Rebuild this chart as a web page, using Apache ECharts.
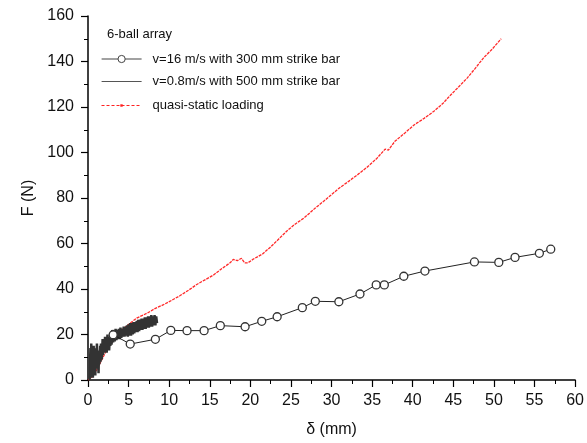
<!DOCTYPE html>
<html>
<head>
<meta charset="utf-8">
<script src="https://cdn.jsdelivr.net/npm/echarts@6/dist/echarts.min.js"></script>
<style>html,body{margin:0;padding:0;background:#fff}#c{width:587px;height:443px}</style>
</head>
<body>
<div id="c"></div>
<script>
// Dynamic, v=16 m/s with 300 mm strike bar (circles)
const circX = [3.1, 5.2, 8.3, 10.2, 12.2, 14.3, 16.3, 19.35, 21.4, 23.3, 26.4, 28.0, 30.9, 33.5, 35.5, 36.5, 38.9, 41.5, 47.6, 50.6, 52.6, 55.6, 57.0];
const circY = [19.9, 15.8, 17.9, 21.8, 21.7, 21.7, 23.9, 23.4, 25.8, 27.8, 31.8, 34.6, 34.4, 37.8, 41.8, 41.8, 45.6, 47.9, 51.9, 51.7, 53.9, 55.7, 57.5];

// v=0.8 m/s with 500 mm strike bar (noisy trace)
const slowX = [0.2,0.3,0.35,0.4,0.5,0.55,0.6,0.7,0.75,0.8,0.9,0.95,1.0,1.1,1.15,1.2,1.3,1.35,1.4,1.5,1.55,1.6,1.7,
  1.8,1.85,1.9,2.0,2.1,2.15,2.2,2.3,2.4,2.45,2.5,2.6,2.7,2.75,2.8,2.9,
  3.0,3.1,3.2,3.3,3.4,3.5,3.6,3.7,3.8,3.9,4.0,4.1,4.2,4.3,4.4,4.5,4.6,4.7,4.8,
  4.9,5.0,5.1,5.2,5.3,5.4,5.5,5.6,5.7,5.8,5.9,6.0,6.1,6.2,6.3,6.4,6.5,6.6,6.7,6.8,6.9,7.0,7.1,7.2,7.3,7.4,7.5,7.6,7.7,7.8,7.9,8.0,8.1,8.2,8.3,8.4,8.5];
const slowY = [0,14,1,16,3,12,1,15,4,11,2,14,6,16,5,13,3,12,7,15,8,16,9,
  18,11,17,12,19,13,18,12,20,14,18,13,19,15,20,15.5,
  22,16.5,21.5,17,22.5,17.5,22,18,22.5,18,23,18.5,22.5,19,23.5,19,23.5,19.5,24,
  19,24.5,19.5,25,19.5,25,20,25.5,20.5,25.5,21,26,21,26.5,21.5,26.5,22,27,22,27,22.5,27.5,22.5,27.5,23,28,23,28,23.5,28.5,23.5,28,24,28.5,24,28,25];

// quasi-static loading
const qsX = [0,0.4,1,1.5,2,2.5,3.2,4,5.2,6,7.3,8.3,9.3,10.3,11.3,12.4,13.4,14.4,15.4,16.5,17.5,17.9,18.4,18.9,19.3,19.7,20.3,21.5,22.5,23.5,24.5,25.5,26.6,28.0,29,30,31,32.1,33.3,34.5,35.6,36.6,37,37.8,39,40.2,41.4,42.6,43.7,44.7,45.7,46.7,47.7,48.7,49.8,50.9];
const qsY = [0,0.9,4,7.5,11,14.5,17.7,21.5,25,27.2,29.4,31.5,33.1,35,37,39.5,42,44,46,49,51.5,53,52.5,53.5,51.5,51.5,53,55.4,58.5,62,65.5,68.5,71.2,75.6,78.5,81.5,84.5,87.3,90.5,93.9,97.5,101.5,101,104.9,108.5,112.2,115,118.1,121.5,125.4,129,132.7,137,141.5,145.5,150];

const xTicks = [0,5,10,15,20,25,30,35,40,45,50,55,60];
const yTicks = [0,20,40,60,80,100,120,140,160];

const names = ['v=16 m/s with 300 mm strike bar', 'v=0.8m/s with 500 mm strike bar', 'quasi-static loading'];
const zip = (a, b) => a.map((v, i) => [v, b[i]]);
const FONT = 'Liberation Sans';
const legText = {fontFamily: FONT, fontSize: 13, color: '#111', padding: [0,0,0,6]};

const chart = echarts.init(document.getElementById('c'), null, {renderer: 'canvas'});
chart.setOption({
  animation: false,
  backgroundColor: '#fff',
  textStyle: {fontFamily: FONT},
  title: {text: '6-ball array', left: 107, top: 27.5, padding: 0, textStyle: {fontFamily: FONT, fontSize: 13, fontWeight: 'normal', color: '#111'}},
  legend: [
    {orient: 'vertical', left: 101, top: 52.5, padding: 0, itemWidth: 40, itemHeight: 9, textStyle: legText,
     data: [{name: names[0], lineStyle: {width: 1.2, color: '#444'}, itemStyle: {color: '#fff', borderColor: '#444', borderWidth: 1}}]},
    {orient: 'vertical', left: 101, top: 75, padding: 0, itemWidth: 40, itemHeight: 9, textStyle: legText,
     data: [{name: names[1], itemStyle: {opacity: 0}, lineStyle: {width: 1.2, color: '#555'}}]},
    {orient: 'vertical', left: 101, top: 99, padding: 0, itemWidth: 40, itemHeight: 3, textStyle: legText,
     data: [{name: names[2], lineStyle: {width: 1, color: '#ff2020', type: [3, 2]}}]}
  ],
  grid: {left: 88, right: 8, top: 16, bottom: 60, containLabel: false},
  xAxis: {
    type: 'value', min: xTicks[0], max: xTicks[xTicks.length-1], interval: 5,
    name: 'δ (mm)', nameLocation: 'middle', nameGap: 42,
    nameTextStyle: {fontFamily: FONT, fontSize: 16, color: '#111'},
    axisLine: {show: true, lineStyle: {color: '#000', width: 1.5}},
    axisTick: {show: true, inside: false, length: 7, lineStyle: {color: '#000', width: 1.2}},
    minorTick: {show: true, splitNumber: 2, length: 4, lineStyle: {color: '#000', width: 1}},
    axisLabel: {fontFamily: FONT, fontSize: 16, color: '#111', margin: 13},
    splitLine: {show: false}
  },
  yAxis: {
    type: 'value', min: yTicks[0], max: yTicks[yTicks.length-1], interval: 20,
    name: 'F (N)', nameLocation: 'middle', nameGap: 51,
    nameTextStyle: {fontFamily: FONT, fontSize: 16, color: '#111'},
    axisLine: {show: true, lineStyle: {color: '#000', width: 1.5}},
    axisTick: {show: true, inside: false, length: 7, lineStyle: {color: '#000', width: 1.2}},
    minorTick: {show: true, splitNumber: 2, length: 4, lineStyle: {color: '#000', width: 1}},
    axisLabel: {fontFamily: FONT, fontSize: 16, color: '#111', margin: 14},
    splitLine: {show: false}
  },
  series: [
    {
      name: names[2], type: 'line', data: zip(qsX, qsY), z: 1,
      symbol: 'rect', symbolSize: 3, showSymbol: false,
      itemStyle: {color: '#ff2020'},
      lineStyle: {color: '#ff2a2a', width: 1.3, type: [3, 1]}
    },
    {
      name: names[1], type: 'line', data: zip(slowX, slowY), z: 2,
      symbol: 'none',
      itemStyle: {color: '#3a3a3a'},
      lineStyle: {color: '#333', width: 2.5}
    },
    {
      name: names[0], type: 'line', data: zip(circX, circY), z: 3,
      symbol: 'circle', symbolSize: 8,
      itemStyle: {color: '#fff', borderColor: '#333', borderWidth: 1.3},
      lineStyle: {color: '#222', width: 1}
    }
  ]
});
</script>
</body>
</html>
